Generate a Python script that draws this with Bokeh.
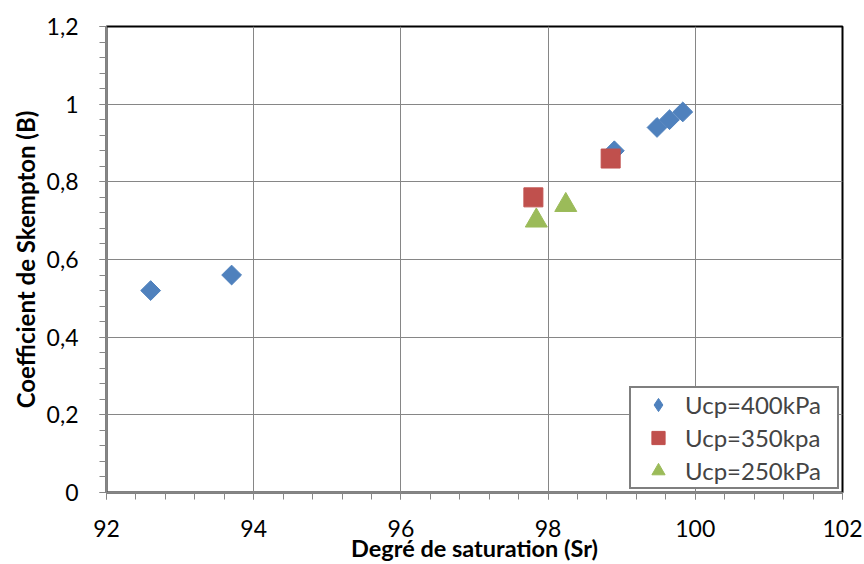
import numpy as np
from bokeh.plotting import figure
from bokeh.models import FixedTicker, CustomJSTickFormatter, Legend, LegendItem
from bokeh.embed import file_html
from bokeh.resources import INLINE

# Data
sr_400 = [92.6, 93.7, 98.9, 99.48, 99.65, 99.83]
b_400 = [0.52, 0.56, 0.88, 0.94, 0.96, 0.98]
sr_350 = [97.8, 98.85]
b_350 = [0.76, 0.86]
sr_250 = [97.84, 98.24]
b_250 = [0.70, 0.74]

labels = ["Ucp=400kPa", "Ucp=350kpa", "Ucp=250kPa"]
x_ticks = [92, 94, 96, 98, 100, 102]
y_ticks = [0, 0.2, 0.4, 0.6, 0.8, 1.0, 1.2]

FONT = "Lato"
AX = "#868686"
BLUE, RED, GREEN = "#4F81BD", "#C0504D", "#9BBB59"

p = figure(frame_width=736, frame_height=466, x_range=(92, 102), y_range=(0, 1.2),
           output_backend="svg", toolbar_location=None,
           min_border_left=106, min_border_right=22, min_border_top=26, min_border_bottom=72,
           background_fill_color="white", border_fill_color="white")

p.outline_line_color = "black"
p.outline_line_width = 2

x_minor = list(np.round(np.arange(92, 102.001, 0.4), 4))
y_minor = list(np.round(np.arange(0, 1.2001, 0.04), 4))
p.xaxis.ticker = FixedTicker(ticks=x_ticks, minor_ticks=x_minor)
p.yaxis.ticker = FixedTicker(ticks=y_ticks, minor_ticks=y_minor)
p.yaxis.formatter = CustomJSTickFormatter(code="""
let s = tick.toFixed(1).replace('.', ',');
if (s.endsWith(',0')) { s = s.slice(0, -2); }
return s;
""")

for ax in (p.xaxis, p.yaxis):
    ax.axis_line_color = AX
    ax.axis_line_width = 1.5
    ax.major_tick_line_color = AX
    ax.minor_tick_line_color = AX
    ax.major_tick_out = 7
    ax.major_tick_in = 0
    ax.minor_tick_out = 7
    ax.minor_tick_in = 0
    ax.major_label_text_font = FONT
    ax.major_label_text_font_size = "23px"
    ax.major_label_text_color = "black"
    ax.axis_label_text_font = FONT
    ax.axis_label_text_font_style = "bold"
    ax.axis_label_text_color = "black"

p.xaxis.axis_label_text_font_size = "23.5px"
p.yaxis.axis_label_text_font_size = "24px"
p.xaxis.major_label_standoff = 20
p.yaxis.major_label_standoff = 21
p.xaxis.axis_label = "Degré de saturation (Sr)"
p.yaxis.axis_label = "Coefficient de Skempton (B)"
p.xaxis.axis_label_standoff = -6
p.yaxis.axis_label_standoff = 4

p.xgrid.grid_line_color = AX
p.ygrid.grid_line_color = AX
p.xgrid.grid_line_width = 1
p.ygrid.grid_line_width = 1

r1 = p.scatter(sr_400, b_400, marker="square", angle=np.pi / 4, size=14,
               fill_color=BLUE, line_color=BLUE)
r2 = p.scatter(sr_350, b_350, marker="square", size=19,
               fill_color=RED, line_color=RED)
r3 = p.scatter(sr_250, b_250, marker="triangle", size=22,
               fill_color=GREEN, line_color=GREEN)
# legend-only glyph (size 0 on the plot) so that the key shows a diamond
r1_key = p.scatter(sr_400, b_400, marker="diamond", size=0,
                   fill_color=BLUE, line_color=BLUE)

legend = Legend(items=[LegendItem(label=labels[0], renderers=[r1_key]),
                       LegendItem(label=labels[1], renderers=[r2]),
                       LegendItem(label=labels[2], renderers=[r3])],
                location="bottom_right")
legend.border_line_color = "black"
legend.border_line_width = 2
legend.label_text_font = FONT
legend.label_text_font_size = "24px"
legend.glyph_height = 33
legend.glyph_width = 54
legend.label_height = 33
legend.label_width = 152
legend.spacing = 0
legend.padding = 0
legend.margin = 3
legend.label_standoff = 0
legend.background_fill_alpha = 1
p.add_layout(legend)

open("out.html", "w").write(file_html(p, INLINE))
